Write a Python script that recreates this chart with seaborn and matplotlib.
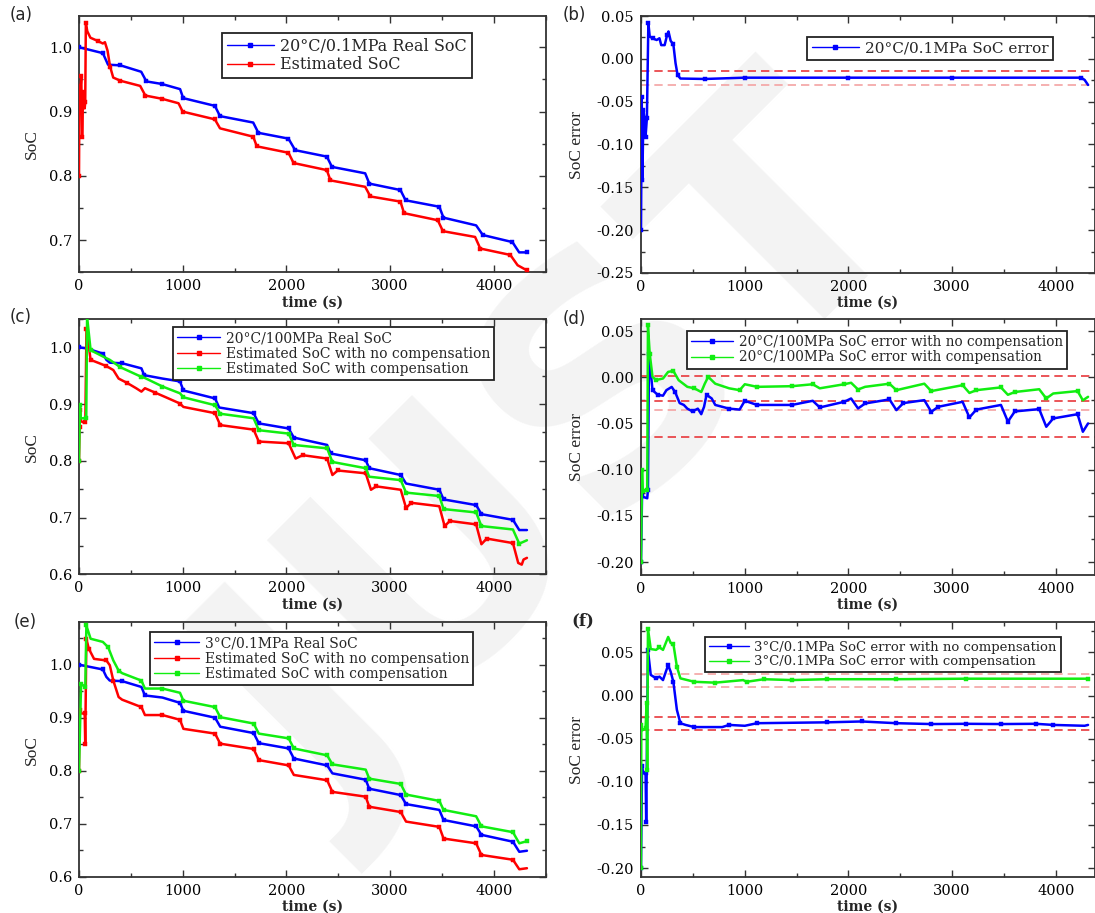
import numpy as np
import pandas as pd
import matplotlib
matplotlib.use("Agg")
import matplotlib.pyplot as plt
from matplotlib.lines import Line2D
from matplotlib.ticker import MultipleLocator, FormatStrFormatter
import seaborn as sns

# ---------------- data ----------------
# (a) 20°C / 0.1 MPa
a_real_t = [0, 80, 230, 280, 400, 600, 650, 800, 975, 1005, 1310, 1360, 1680, 1730, 2020, 2085,
            2390, 2440, 2760, 2800, 3100, 3150, 3475, 3515, 3830, 3895, 4180, 4245, 4320]
a_real_v = [1.000, 0.997, 0.991, 0.973, 0.972, 0.962, 0.947, 0.943, 0.935, 0.921, 0.909, 0.893,
            0.883, 0.867, 0.858, 0.840, 0.830, 0.814, 0.804, 0.788, 0.778, 0.762, 0.752, 0.735,
            0.723, 0.708, 0.697, 0.681, 0.681]
a_est_t = [0, 4, 12, 22, 30, 40, 48, 55, 60, 66, 80, 110, 180, 230, 250, 275, 300, 330, 400, 590,
           640, 800, 960, 1000, 1310, 1360, 1680, 1715, 2020, 2070, 2390, 2425, 2760, 2810, 3100,
           3135, 3460, 3510, 3820, 3870, 4160, 4230, 4320]
a_est_v = [0.800, 0.940, 0.930, 0.955, 0.860, 0.930, 0.920, 0.905, 0.915, 1.038, 1.025, 1.015,
           1.010, 1.006, 1.008, 0.995, 0.970, 0.953, 0.948, 0.940, 0.925, 0.920, 0.913, 0.900,
           0.888, 0.874, 0.861, 0.846, 0.836, 0.820, 0.809, 0.793, 0.783, 0.768, 0.760, 0.742,
           0.731, 0.714, 0.705, 0.687, 0.677, 0.661, 0.653]

# (b) SoC error 20°C / 0.1 MPa
b_err_t = [0, 7, 13, 24, 34, 44, 57, 71, 84, 111, 151, 178, 195, 228, 252, 265, 286, 312, 333,
           353, 380, 615, 1000, 2000, 3000, 4244, 4278, 4311]
b_err_v = [-0.200, -0.044, -0.141, -0.060, -0.071, -0.091, -0.069, 0.042, 0.026, 0.024, 0.022,
           0.024, 0.016, 0.016, 0.028, 0.032, 0.021, 0.017, -0.005, -0.019, -0.023, -0.0235,
           -0.022, -0.022, -0.022, -0.022, -0.0246, -0.0305]
b_bounds = [-0.014, -0.031]

# (c) 20°C / 100 MPa
c_real_t = [0, 78, 230, 264, 297, 416, 602, 629, 805, 974, 1007, 1312, 1352, 1684, 1734, 2022,
            2072, 2393, 2427, 2765, 2799, 3103, 3154, 3475, 3516, 3830, 3881, 4185, 4246, 4320]
c_real_v = [1.000, 0.998, 0.989, 0.978, 0.973, 0.972, 0.963, 0.951, 0.945, 0.940, 0.924, 0.910,
            0.894, 0.884, 0.866, 0.857, 0.841, 0.828, 0.813, 0.801, 0.787, 0.775, 0.760, 0.749,
            0.732, 0.722, 0.706, 0.696, 0.678, 0.678]
c_nocomp_t = [0, 5, 10, 17, 40, 61, 72, 112, 196, 264, 331, 382, 467, 551, 602, 636, 737, 838,
              974, 1007, 1312, 1362, 1684, 1734, 2022, 2089, 2157, 2393, 2444, 2495, 2765, 2816,
              2867, 3103, 3154, 3205, 3475, 3526, 3577, 3830, 3881, 3932, 4185, 4236, 4270, 4287,
              4320]
c_nocomp_v = [0.800, 0.860, 0.890, 0.870, 0.868, 0.868, 1.033, 0.978, 0.972, 0.967, 0.960, 0.945,
              0.937, 0.928, 0.922, 0.928, 0.920, 0.912, 0.901, 0.895, 0.884, 0.863, 0.855, 0.834,
              0.831, 0.804, 0.810, 0.804, 0.775, 0.783, 0.778, 0.749, 0.755, 0.749, 0.717, 0.726,
              0.720, 0.685, 0.694, 0.688, 0.653, 0.663, 0.655, 0.620, 0.617, 0.626, 0.629]
c_comp_t = [0, 10, 17, 70, 78, 112, 230, 297, 399, 602, 636, 805, 974, 1007, 1312, 1362, 1684,
            1734, 2022, 2072, 2393, 2444, 2765, 2799, 3103, 3154, 3475, 3516, 3830, 3881, 4185,
            4246, 4320]
c_comp_v = [0.800, 0.898, 0.875, 0.875, 1.054, 0.995, 0.984, 0.978, 0.965, 0.948, 0.946, 0.931,
            0.919, 0.912, 0.898, 0.883, 0.875, 0.854, 0.848, 0.828, 0.822, 0.798, 0.787, 0.772,
            0.766, 0.744, 0.738, 0.715, 0.709, 0.685, 0.679, 0.654, 0.660]

# (d) SoC error 20°C / 100 MPa
d_nocomp_t = [0, 10, 60, 67, 77, 111, 161, 212, 245, 296, 329, 373, 413, 447, 497, 548, 581, 608,
              632, 682, 716, 850, 951, 1001, 1119, 1455, 1656, 1724, 1959, 2026, 2093, 2161, 2396,
              2463, 2530, 2732, 2799, 2866, 3101, 3167, 3234, 3471, 3538, 3605, 3840, 3908, 3975,
              4210, 4261, 4311]
d_nocomp_v = [-0.200, -0.129, -0.131, -0.122, 0.025, -0.014, -0.019, -0.020, -0.014, -0.0105,
              -0.016, -0.028, -0.030, -0.034, -0.037, -0.034, -0.040, -0.032, -0.019, -0.023,
              -0.030, -0.034, -0.035, -0.0255, -0.030, -0.030, -0.0255, -0.0327, -0.0266, -0.023,
              -0.0338, -0.0284, -0.024, -0.0356, -0.028, -0.0248, -0.0374, -0.032, -0.0266,
              -0.0435, -0.035, -0.030, -0.048, -0.037, -0.0345, -0.0536, -0.0446, -0.040, -0.059,
              -0.050]
d_comp_t = [0, 10, 17, 60, 67, 84, 111, 145, 212, 262, 312, 363, 447, 514, 581, 615, 648, 716,
            850, 951, 1001, 1119, 1455, 1656, 1724, 1959, 2026, 2093, 2161, 2396, 2463, 2732,
            2799, 3101, 3167, 3234, 3471, 3538, 3605, 3840, 3908, 3975, 4210, 4261, 4311]
d_comp_v = [-0.200, -0.100, -0.123, -0.122, 0.056, 0.0255, 0.0004, -0.003, -0.0014, 0.0058,
            0.0068, -0.0032, -0.0104, -0.012, -0.016, -0.007, 0.0004, -0.007, -0.012, -0.014,
            -0.0076, -0.0104, -0.0097, -0.0076, -0.012, -0.0076, -0.006, -0.0133, -0.0104,
            -0.007, -0.014, -0.007, -0.015, -0.0086, -0.017, -0.014, -0.011, -0.019, -0.016,
            -0.013, -0.023, -0.0176, -0.015, -0.025, -0.0212]
d_bounds = [0.0014, -0.0257, -0.035, -0.065]

# (e) 3°C / 0.1 MPa
e_real_t = [0, 230, 264, 297, 416, 602, 636, 805, 974, 1007, 1312, 1362, 1684, 1734, 2022, 2072,
            2393, 2444, 2765, 2799, 3103, 3154, 3475, 3516, 3830, 3881, 4185, 4246, 4320]
e_real_v = [1.000, 0.991, 0.977, 0.970, 0.969, 0.958, 0.942, 0.938, 0.928, 0.913, 0.900, 0.883,
            0.871, 0.852, 0.842, 0.823, 0.810, 0.795, 0.783, 0.766, 0.754, 0.737, 0.726, 0.707,
            0.695, 0.679, 0.666, 0.647, 0.649]
e_nocomp_t = [0, 5, 20, 55, 60, 71, 95, 145, 264, 297, 331, 382, 416, 602, 636, 805, 974, 1007,
              1312, 1362, 1684, 1734, 2022, 2072, 2393, 2444, 2765, 2799, 3103, 3154, 3475, 3516,
              3830, 3881, 4185, 4246, 4320]
e_nocomp_v = [0.800, 0.914, 0.908, 0.908, 0.851, 1.049, 1.030, 1.011, 1.008, 0.999, 0.970, 0.939,
              0.934, 0.920, 0.905, 0.905, 0.896, 0.879, 0.870, 0.851, 0.841, 0.820, 0.810, 0.792,
              0.782, 0.760, 0.751, 0.732, 0.722, 0.704, 0.694, 0.672, 0.663, 0.641, 0.632, 0.614,
              0.616]
e_comp_t = [0, 20, 61, 71, 112, 230, 281, 331, 382, 416, 602, 636, 805, 974, 1007, 1312, 1362,
            1684, 1734, 2022, 2072, 2393, 2444, 2765, 2799, 3103, 3154, 3475, 3516, 3830, 3881,
            4185, 4246, 4320]
e_comp_v = [0.800, 0.964, 0.958, 1.074, 1.049, 1.043, 1.033, 1.008, 0.989, 0.984, 0.970, 0.955,
            0.955, 0.947, 0.932, 0.920, 0.901, 0.889, 0.870, 0.861, 0.842, 0.829, 0.812, 0.802,
            0.785, 0.775, 0.755, 0.743, 0.726, 0.714, 0.695, 0.684, 0.663, 0.667]

# (f) SoC error 3°C / 0.1 MPa
f_nocomp_t = [0, 10, 17, 44, 50, 67, 94, 145, 178, 212, 245, 262, 286, 312, 346, 380, 430, 514,
              783, 850, 1001, 1119, 1791, 2127, 2463, 2799, 3135, 3471, 3807, 3975, 4278, 4311]
f_nocomp_v = [-0.200, -0.082, -0.090, -0.090, -0.147, 0.0527, 0.024, 0.020, 0.022, 0.018, 0.0296,
              0.0354, 0.0277, 0.016, -0.0165, -0.032, -0.034, -0.0365, -0.0365, -0.034, -0.035,
              -0.032, -0.031, -0.030, -0.032, -0.033, -0.0327, -0.033, -0.0327, -0.034, -0.035,
              -0.034]
f_comp_t = [0, 3, 17, 44, 54, 60, 67, 94, 145, 178, 212, 262, 286, 312, 346, 380, 514, 716, 985,
            1018, 1186, 1455, 1791, 2463, 3135, 4311]
f_comp_v = [-0.200, -0.034, -0.040, -0.038, -0.009, -0.086, 0.0777, 0.054, 0.053, 0.056, 0.053,
            0.068, 0.061, 0.060, 0.0335, 0.020, 0.016, 0.015, 0.018, 0.016, 0.019, 0.018, 0.019,
            0.019, 0.0196, 0.0196]
f_bounds = [0.025, 0.010, -0.025, -0.040]

# ---------------- style ----------------
sns.set_theme(style="ticks")
plt.rcParams["font.family"] = ["DejaVu Serif"]
plt.rcParams["axes.unicode_minus"] = False

BLUE, RED, GREEN = "#0000ff", "#ff0000", "#11ee11"
DASH_DARK, DASH_LIGHT = "#e8383c", "#f4a3a3"
SPINE = "#333333"

W, H = 1095, 913
fig = plt.figure(figsize=(W / 100, H / 100), dpi=100)
fig.patch.set_facecolor("white")

# faint watermark
fig.text(0.52, 0.49, "JUST", rotation=45, fontsize=235, color="#f3f3f3", ha="center",
         va="center", family="DejaVu Sans", weight="bold", zorder=-5)


def add_ax(l, t, r, b):
    return fig.add_axes([l / W, 1 - b / H, (r - l) / W, (b - t) / H])


def draw(ax, series, xlim, ylim, ymaj, ymin, yfmt, bounds, ylabel, ylab_x,
         leg_xy, leg_fs, handle_px):
    ax.set_facecolor("none")
    handles, labels = [], []
    for t, v, color, label in series:
        df = pd.DataFrame({"time": t, "val": v})
        sns.lineplot(data=df, x="time", y="val", ax=ax, color=color, sort=False,
                     estimator=None, lw=1.8, marker="s", markersize=2.2, markevery=0.05,
                     markeredgecolor=color, markeredgewidth=0.3, legend=False, zorder=3)
        handles.append(Line2D([], [], color=color, lw=1.0, marker="s", markersize=3,
                              markeredgecolor=color))
        labels.append(label)
    for y, c in bounds:
        ax.axhline(y, color=c, lw=1.2, ls=(0, (5, 3)), zorder=2)
    ax.set_xlim(*xlim)
    ax.set_ylim(*ylim)
    ax.xaxis.set_major_locator(MultipleLocator(1000))
    ax.xaxis.set_minor_locator(MultipleLocator(500))
    ax.yaxis.set_major_locator(MultipleLocator(ymaj))
    ax.yaxis.set_minor_locator(MultipleLocator(ymin))
    ax.yaxis.set_major_formatter(FormatStrFormatter(yfmt))
    ax.tick_params(which="both", direction="in", top=True, right=True, colors=SPINE,
                   labelcolor="black", labelsize=10.5, pad=5, width=1.0)
    ax.tick_params(which="major", length=5)
    ax.tick_params(which="minor", length=3)
    for s in ax.spines.values():
        s.set_linewidth(1.3)
        s.set_color(SPINE)
    ax.set_xlabel("time (s)", fontsize=10, fontweight="bold", family="DejaVu Serif")
    ax.set_ylabel(ylabel, fontsize=12.5, family="Liberation Serif")
    bb = ax.get_position()
    ax.xaxis.set_label_coords(0.5, -23 / (bb.height * H))
    ax.yaxis.set_label_coords(ylab_x, 0.5)
    leg = ax.legend(handles, labels, loc="upper left",
                    bbox_to_anchor=(leg_xy[0] / W, 1 - leg_xy[1] / H),
                    bbox_transform=fig.transFigure, frameon=True, fancybox=False,
                    edgecolor="#222222", framealpha=1, fontsize=leg_fs,
                    handlelength=handle_px / (leg_fs * 100 / 72), handletextpad=0.4,
                    borderpad=0.3, labelspacing=0.1, borderaxespad=0)
    leg.get_frame().set_linewidth(1.3)
    leg.set_zorder(5)


XL_LEFT = (0, 4500)
XL_RIGHT = (0, 4378)

ax_a = add_ax(79, 16.5, 545.6, 272.3)
draw(ax_a, [(a_real_t, a_real_v, BLUE, "20°C/0.1MPa Real SoC"),
            (a_est_t, a_est_v, RED, "Estimated SoC")],
     XL_LEFT, (0.65, 1.048), 0.1, 0.05, "%.1f", [], "SoC", -0.084,
     (222, 33), 11.5, 47)

ax_b = add_ax(641, 16, 1095, 273)
draw(ax_b, [(b_err_t, b_err_v, BLUE, "20°C/0.1MPa SoC error")],
     XL_RIGHT, (-0.25, 0.05), 0.05, 0.025, "%.2f",
     [(b_bounds[0], DASH_DARK), (b_bounds[1], DASH_LIGHT)], "SoC error", -0.123,
     (807, 37), 11, 47)

ax_c = add_ax(79, 319, 545.6, 574.3)
draw(ax_c, [(c_real_t, c_real_v, BLUE, "20°C/100MPa Real SoC"),
            (c_nocomp_t, c_nocomp_v, RED, "Estimated SoC with no compensation"),
            (c_comp_t, c_comp_v, GREEN, "Estimated SoC with compensation")],
     XL_LEFT, (0.6, 1.05), 0.1, 0.05, "%.1f", [], "SoC", -0.084,
     (173, 327), 10, 43)

ax_d = add_ax(641, 319, 1095, 575)
draw(ax_d, [(d_nocomp_t, d_nocomp_v, BLUE, "20°C/100MPa SoC error with no compensation"),
            (d_comp_t, d_comp_v, GREEN, "20°C/100MPa SoC error with compensation")],
     XL_RIGHT, (-0.214, 0.063), 0.05, 0.025, "%.2f",
     [(d_bounds[0], DASH_DARK), (d_bounds[1], DASH_DARK), (d_bounds[2], DASH_LIGHT),
      (d_bounds[3], DASH_DARK)], "SoC error", -0.123,
     (687, 331), 9.8, 42)

ax_e = add_ax(79, 622.3, 545.6, 876.7)
draw(ax_e, [(e_real_t, e_real_v, BLUE, "3°C/0.1MPa Real SoC"),
            (e_nocomp_t, e_nocomp_v, RED, "Estimated SoC with no compensation"),
            (e_comp_t, e_comp_v, GREEN, "Estimated SoC with compensation")],
     XL_LEFT, (0.6, 1.08), 0.1, 0.05, "%.1f", [], "SoC", -0.084,
     (150, 632), 10, 45)

ax_f = add_ax(641, 622.3, 1095, 876.7)
draw(ax_f, [(f_nocomp_t, f_nocomp_v, BLUE, "3°C/0.1MPa SoC error with no compensation"),
            (f_comp_t, f_comp_v, GREEN, "3°C/0.1MPa SoC error with compensation")],
     XL_RIGHT, (-0.21, 0.085), 0.05, 0.025, "%.2f",
     [(f_bounds[0], DASH_LIGHT), (f_bounds[1], DASH_LIGHT), (f_bounds[2], DASH_DARK),
      (f_bounds[3], DASH_DARK)], "SoC error", -0.123,
     (705, 637), 9.5, 40)

# panel letters
for lab, x, y, kw in [("(a)", 10, 15, {}), ("(b)", 563, 15, {}), ("(c)", 10, 317, {}),
                      ("(d)", 563, 319, {}), ("(e)", 14, 622, {}),
                      ("(f)", 571, 621, {"weight": "bold", "family": "DejaVu Serif"})]:
    fam = kw.pop("family", "DejaVu Sans")
    fig.text(x / W, 1 - y / H, lab, fontsize=12, ha="left", va="center", family=fam, **kw)

fig.savefig("out.png", dpi=100, facecolor="white")
